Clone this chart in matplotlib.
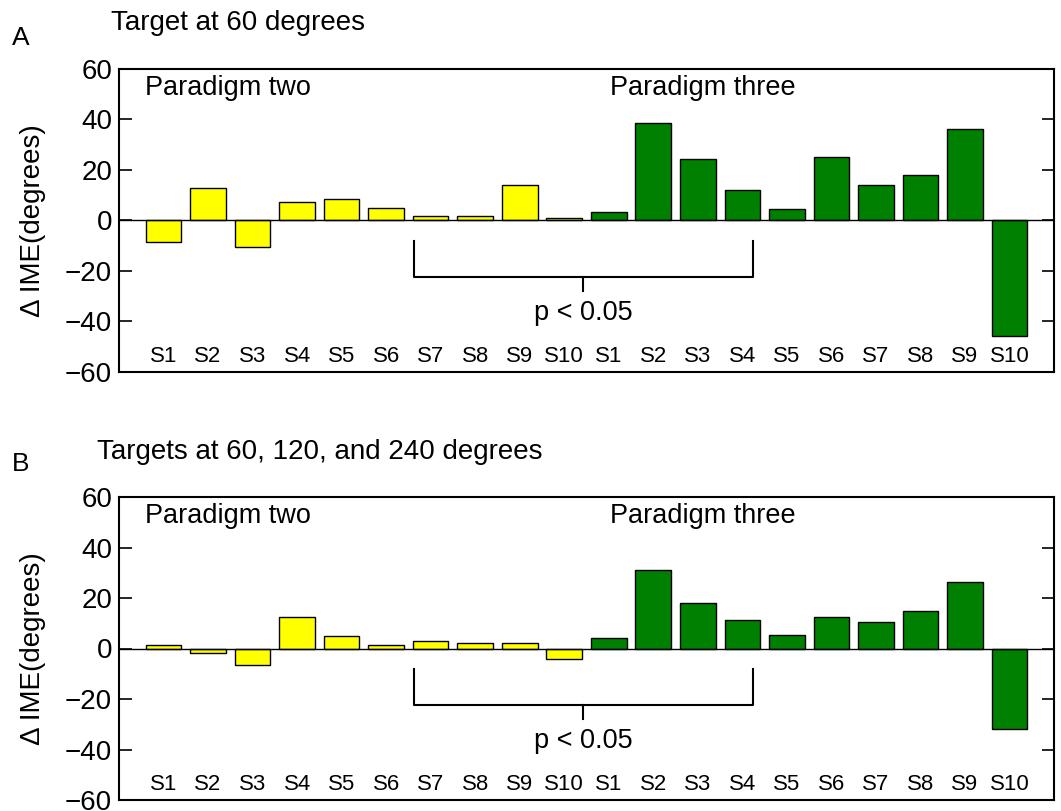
import matplotlib
matplotlib.use("Agg")
import matplotlib.pyplot as plt
import numpy as np

plt.rcParams['font.family'] = ['Liberation Sans', 'DejaVu Sans']

subjects = ["S1", "S2", "S3", "S4", "S5", "S6", "S7", "S8", "S9", "S10"]
panel_a_two = [-8.4, 12.8, -10.3, 7.5, 8.7, 4.8, 1.6, 1.9, 14.0, 0.8]
panel_a_three = [3.3, 38.8, 24.4, 12.2, 4.4, 25.2, 14.0, 18.2, 36.4, -45.9]
panel_b_two = [1.3, -1.7, -6.5, 12.4, 5.1, 1.2, 2.8, 2.2, 2.2, -4.1]
panel_b_three = [4.1, 31.1, 17.9, 11.2, 5.3, 12.4, 10.4, 14.8, 26.5, -31.8]
yticks = [-60, -40, -20, 0, 20, 40, 60]

W, H = 1061, 811
fig = plt.figure(figsize=(W / 100, H / 100), dpi=100)

def fx(px):
    return px / W

def fy(py):
    return 1 - py / H

def draw_panel(ax, two, three):
    n = len(subjects)
    x_two = np.arange(1, n + 1)
    x_three = np.arange(n + 1, 2 * n + 1)
    ax.bar(x_two, two, width=0.8, color='#FFFF00', edgecolor='black', linewidth=1.0, zorder=2)
    ax.bar(x_three, three, width=0.8, color='#008000', edgecolor='black', linewidth=1.0, zorder=2)
    ax.axhline(0, color='black', linewidth=1.0, zorder=3)
    ax.set_xlim(0, 2 * n + 1)
    ax.set_ylim(-60, 60)
    ax.set_xticks([])
    ax.set_yticks(yticks)
    ax.set_yticklabels([str(t).replace('-', '\u2212') for t in yticks], fontsize=20)
    ax.tick_params(axis='y', direction='in', length=9, width=1.2, right=True, left=True, pad=5)
    for s in ax.spines.values():
        s.set_linewidth(1.5)
    for i, s in enumerate(subjects + subjects):
        ax.text(i + 1, -53.9, s, ha='center', va='center', fontsize=16)
    ax.text(0.58, 52.5, "Paradigm two", ha='left', va='center', fontsize=19.5)
    ax.text(11.03, 52.5, "Paradigm three", ha='left', va='center', fontsize=19.5)
    # significance bracket
    xl, xr = 6.63, 14.23
    xm = (xl + xr) / 2
    ax.plot([xl, xl, xr, xr], [-8.0, -22.4, -22.4, -8.0], color='black', linewidth=1.5, zorder=3)
    ax.plot([xm, xm], [-22.4, -28.0], color='black', linewidth=1.5, zorder=3)
    ax.text(xm, -36.6, "p < 0.05", ha='center', va='center', fontsize=19.5)
    ax.set_ylabel("\u0394 IME(degrees)", fontsize=20)
    ax.yaxis.set_label_coords(-0.078, 0.5)

axA = fig.add_axes([fx(119), fy(372), fx(1054 - 119), (372 - 69) / H])
axB = fig.add_axes([fx(119), fy(800), fx(1054 - 119), (800 - 497) / H])

draw_panel(axA, panel_a_two, panel_a_three)
draw_panel(axB, panel_b_two, panel_b_three)

fig.text(fx(12), fy(38), "A", ha='left', va='center', fontsize=19)
fig.text(fx(111), fy(23), "Target at 60 degrees", ha='left', va='center', fontsize=20)
fig.text(fx(12), fy(464), "B", ha='left', va='center', fontsize=19)
fig.text(fx(97), fy(452), "Targets at 60, 120, and 240 degrees", ha='left', va='center', fontsize=20)

fig.savefig("out.png", dpi=100)
